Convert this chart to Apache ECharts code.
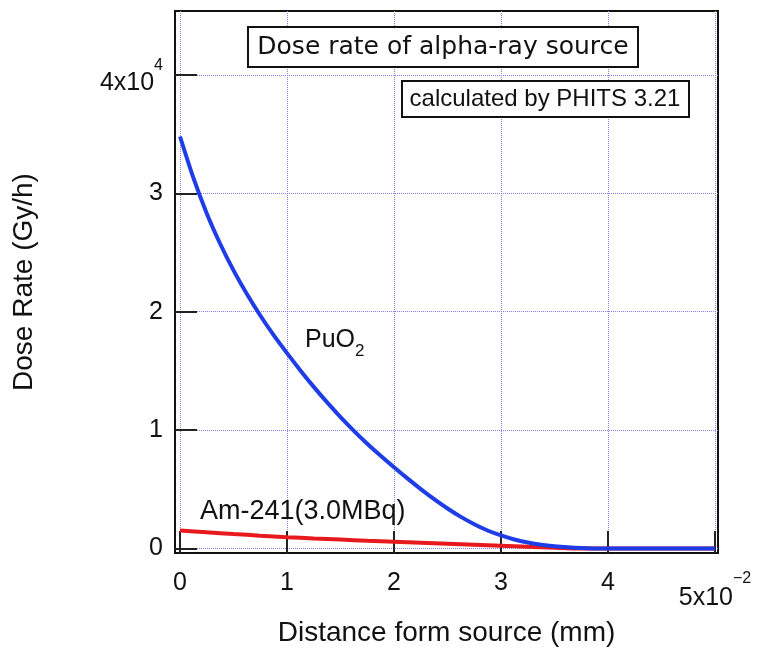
<!DOCTYPE html>
<html><head><meta charset="utf-8">
<script src="https://cdn.jsdelivr.net/npm/echarts@6/dist/echarts.min.js"></script>
<style>html,body{margin:0;padding:0;background:#fff}#c{width:758px;height:654px}</style>
</head><body><div id="c"></div>
<script>
// distance in units of 1e-2 mm, dose rate in Gy/h
const puDistance = [0, 0.125, 0.25, 0.375, 0.5, 0.625, 0.75, 0.875, 1.0, 1.125, 1.25, 1.375, 1.5, 1.625, 1.75, 1.875, 2.0, 2.125, 2.25, 2.375, 2.5, 2.625, 2.75, 2.875, 3.0, 3.125, 3.25, 3.375, 3.5, 3.625, 3.75, 3.875, 4.0, 4.5, 5.0];
const puo2 = [34800, 31300, 28300, 25740, 23490, 21490, 19680, 18020, 16500, 15040, 13650, 12340, 11100, 9940, 8850, 7830, 6860, 5920, 5020, 4170, 3380, 2670, 2050, 1520, 1100, 760, 510, 320, 190, 100, 40, 10, 0, 0, 0];
const amDistance = [0, 0.25, 0.5, 0.75, 1.0, 1.25, 1.5, 1.75, 2.0, 2.25, 2.5, 2.75, 3.0, 3.25, 3.5, 3.75, 4.0, 4.5, 5.0];
const am241 = [1520, 1365, 1220, 1085, 960, 850, 750, 655, 570, 485, 400, 315, 230, 140, 60, 0, 0, 0, 0];
const xTicks = [0, 1, 2, 3, 4, 5];
const yTicks = [0, 10000, 20000, 30000, 40000];
const xTitle = 'Distance form source (mm)';
const yTitle = 'Dose Rate (Gy/h)';
const titleText = 'Dose rate of alpha-ray source';
const noteText = 'calculated by PHITS 3.21';
const puLabel = ['PuO', '2'];
const amLabel = 'Am-241(3.0MBq)';

const FONT = '"Liberation Sans", Arial, sans-serif';
const ink = '#111';
const gridColor = '#8484e6';

const chart = echarts.init(document.getElementById('c'), null, { renderer: 'canvas' });
chart.setOption({
  animation: false,
  backgroundColor: '#fff',
  grid: { left: 175, right: 40, top: 11, bottom: 101, show: true, borderColor: ink, borderWidth: 2, backgroundColor: 'transparent' },
  xAxis: {
    type: 'value', min: -0.047, max: 5.028,
    axisLine: { show: true, onZero: false, lineStyle: { color: ink, width: 2 } },
    axisTick: { show: true, inside: true, length: 22, lineStyle: { color: '#222', width: 2 }, customValues: xTicks },
    axisLabel: {
      customValues: xTicks, margin: 18, fontSize: 25, fontFamily: FONT, color: ink,
      formatter: v => v === 5 ? '{b|5x10}{s|−2}' : String(v),
      rich: {
        b: { fontSize: 25, fontFamily: FONT, color: ink, padding: [15, 0, 0, 0], verticalAlign: 'bottom' },
        s: { fontSize: 16, fontFamily: FONT, color: ink, verticalAlign: 'top' }
      }
    },
    splitLine: { show: true, lineStyle: { color: gridColor, type: 'dotted', width: 1 } },
    name: xTitle, nameLocation: 'middle', nameGap: 66,
    nameTextStyle: { fontSize: 28, fontFamily: FONT, color: ink }
  },
  yAxis: {
    type: 'value', min: -380, max: 45400,
    axisLine: { show: true, onZero: false, lineStyle: { color: ink, width: 2 } },
    axisTick: { show: true, inside: true, length: 22, lineStyle: { color: '#222', width: 2 }, customValues: yTicks },
    axisLabel: {
      customValues: yTicks, margin: 12, fontSize: 25, fontFamily: FONT, color: ink,
      formatter: v => v === 40000 ? '{b|4x10}{s|4}' : String(v / 10000),
      rich: {
        b: { fontSize: 25, fontFamily: FONT, color: ink, padding: [16, 0, 0, 0], verticalAlign: 'bottom' },
        s: { fontSize: 16, fontFamily: FONT, color: ink, padding: [3, 0, 0, 0], verticalAlign: 'top' }
      }
    },
    splitLine: { show: true, lineStyle: { color: gridColor, type: 'dotted', width: 1 } },
    name: yTitle, nameLocation: 'middle', nameGap: 137, nameRotate: 90,
    nameTextStyle: { fontSize: 28, fontFamily: FONT, color: ink }
  },
  series: [
    {
      name: amLabel, type: 'line', data: amDistance.map((d, i) => [d, am241[i]]),
      showSymbol: false, smooth: 0.25,
      lineStyle: { color: '#e8191c', width: 4 }, z: 3
    },
    {
      name: puLabel.join(''), type: 'line', data: puDistance.map((d, i) => [d, puo2[i]]),
      showSymbol: false, smooth: 0.25,
      lineStyle: { color: '#1f3de6', width: 4 }, z: 4
    }
  ],
  graphic: [
    { type: 'rect', shape: { x: 248, y: 27, width: 390, height: 40 }, style: { fill: '#fff', stroke: ink, lineWidth: 2 }, z: 100 },
    { type: 'text', x: 443, y: 47, style: { text: titleText, fontSize: 25, fontFamily: '"DejaVu Sans", sans-serif', align: 'center', verticalAlign: 'middle', fill: ink }, z: 101 },
    { type: 'rect', shape: { x: 402, y: 81, width: 287, height: 36 }, style: { fill: '#fff', stroke: ink, lineWidth: 2 }, z: 100 },
    { type: 'text', x: 545, y: 99, style: { text: noteText, fontSize: 24, fontFamily: FONT, align: 'center', verticalAlign: 'middle', fill: ink }, z: 101 },
    { type: 'text', x: 305, y: 328, style: {
        text: '{a|' + puLabel[0] + '}{b|' + puLabel[1] + '}', align: 'left', verticalAlign: 'top',
        rich: {
          a: { fontSize: 25, fontFamily: FONT, fill: ink, padding: [0, 0, 7, 0], verticalAlign: 'bottom' },
          b: { fontSize: 17, fontFamily: FONT, fill: ink, verticalAlign: 'bottom' }
        } }, z: 101 },
    { type: 'text', x: 200, y: 512, style: { text: amLabel, fontSize: 27, fontFamily: FONT, align: 'left', verticalAlign: 'middle', fill: ink }, z: 101 }
  ]
});
</script>
</body></html>
